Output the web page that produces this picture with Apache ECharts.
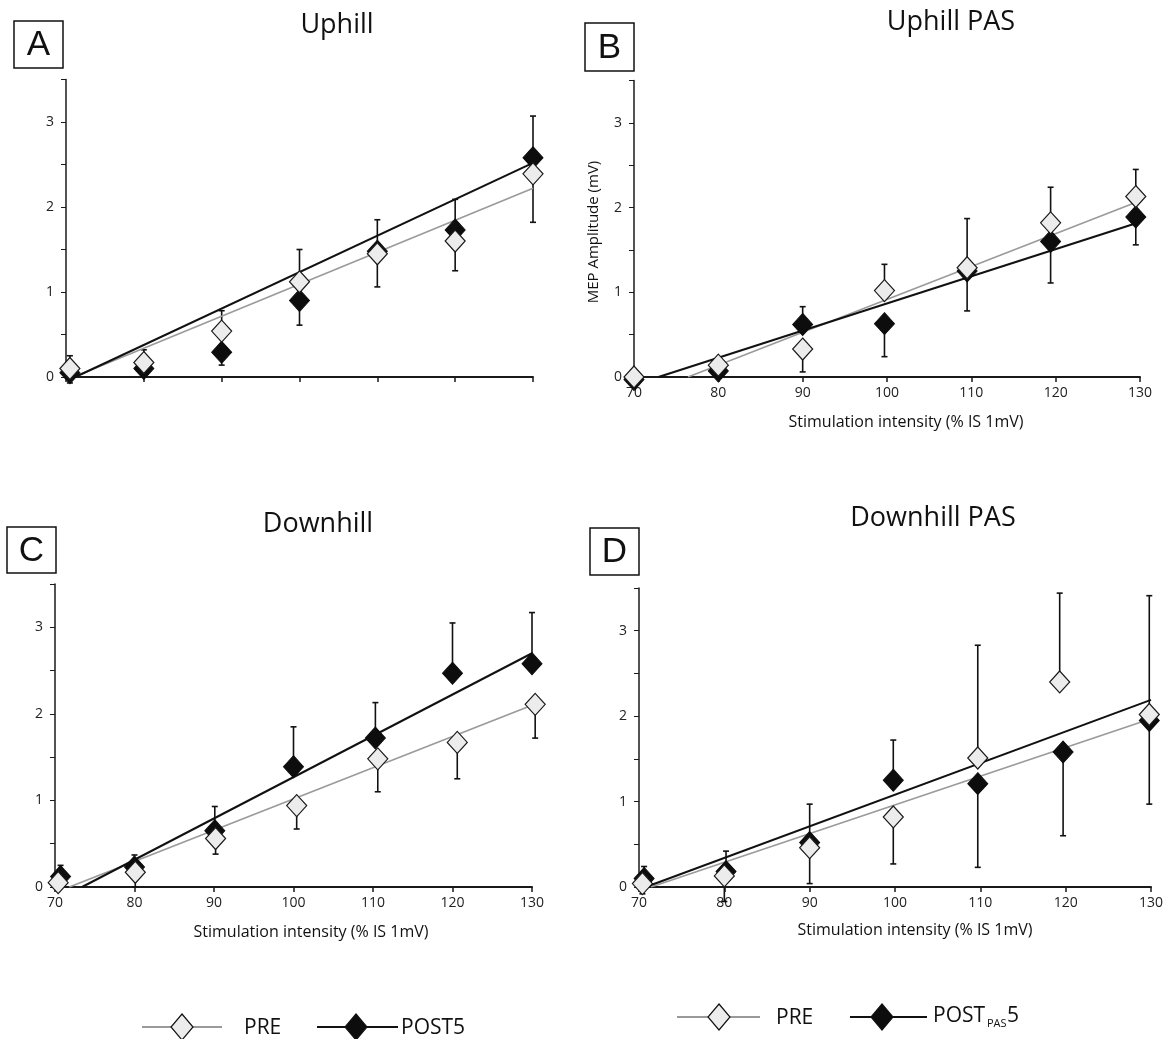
<!DOCTYPE html>
<html>
<head>
<meta charset="utf-8">
<script src="https://cdn.jsdelivr.net/npm/echarts@6/dist/echarts.min.js"></script>
<style>
html,body{margin:0;padding:0;background:#fff;}
#chart{width:1166px;height:1039px;}
</style>
</head>
<body>
<div id="chart"></div>
<script>
// ---------- DATA ----------
const xTicks = [70, 80, 90, 100, 110, 120, 130];
const panelTitles = ['Uphill', 'Uphill PAS', 'Downhill', 'Downhill PAS'];
const panelLetters = ['A', 'B', 'C', 'D'];
const xAxisTitle = 'Stimulation intensity (% IS 1mV)';
const yAxisTitle = 'MEP Amplitude (mV)';

// Panel A - Uphill
const A_preX = [70.5, 80, 90, 100, 110, 120, 130];
const A_preY = [0.10, 0.17, 0.54, 1.12, 1.45, 1.60, 2.39];
const A_preErr = [0.15, 0.15, 0.24, 0.38, -0.39, -0.35, -0.57];
const A_postX = [70.5, 80, 90, 100, 110, 120, 130];
const A_postY = [0.05, 0.10, 0.29, 0.90, 1.48, 1.73, 2.58];
const A_postErr = [-0.12, -0.08, -0.15, -0.29, 0.37, 0.36, 0.49];
const A_preTrend = [[71.0, 0], [130, 2.22]];
const A_postTrend = [[71.2, 0], [130, 2.52]];

// Panel B - Uphill PAS
const B_preX = [70, 80, 90, 99.7, 109.5, 119.4, 129.5];
const B_preY = [0.0, 0.14, 0.33, 1.02, 1.29, 1.82, 2.13];
const B_preErr = [0, 0, -0.27, 0.31, 0.58, 0.42, 0.32];
const B_postX = [70, 80, 90, 99.7, 109.5, 119.4, 129.5];
const B_postY = [-0.03, 0.07, 0.62, 0.63, 1.25, 1.60, 1.89];
const B_postErr = [0, -0.07, 0.21, -0.39, -0.47, -0.49, -0.33];
const B_preTrend = [[76.4, 0], [130, 2.08]];
const B_postTrend = [[72.9, 0], [130, 1.83]];

// Panel C - Downhill
const C_preX = [70.4, 80.1, 90.2, 100.4, 110.6, 120.6, 130.4];
const C_preY = [0.05, 0.17, 0.56, 0.94, 1.48, 1.67, 2.11];
const C_preErr = [0, -0.17, -0.18, -0.27, -0.38, -0.42, -0.39];
const C_postX = [70.7, 80, 90.1, 100, 110.3, 120, 130];
const C_postY = [0.12, 0.23, 0.65, 1.39, 1.72, 2.47, 2.58];
const C_postErr = [0.13, 0.14, 0.28, 0.46, 0.41, 0.58, 0.59];
const C_preTrend = [[71.8, 0], [130, 2.10]];
const C_postTrend = [[73.4, 0], [130, 2.70]];

// Panel D - Downhill PAS
const D_preX = [70.4, 80, 90, 99.8, 109.7, 119.3, 129.8];
const D_preY = [0.04, 0.13, 0.46, 0.82, 1.51, 2.40, 2.02];
const D_preErr = [-0.12, -0.30, -0.42, -0.55, 1.32, 1.04, 1.39];
const D_postX = [70.6, 80.2, 90, 99.8, 109.7, 119.7, 129.8];
const D_postY = [0.10, 0.18, 0.52, 1.25, 1.21, 1.58, 1.95];
const D_postErr = [0.14, 0.24, 0.45, 0.47, -0.98, -0.98, -0.98];
const D_preTrend = [[71.4, 0], [130, 1.97]];
const D_postTrend = [[70.8, 0], [130, 2.19]];

// ---------- CHART ----------
const FONT = '"Open Sans", "DejaVu Sans", sans-serif';
const panels = [
  {preX: A_preX, preY: A_preY, preErr: A_preErr, postX: A_postX, postY: A_postY, postErr: A_postErr, preTrend: A_preTrend, postTrend: A_postTrend},
  {preX: B_preX, preY: B_preY, preErr: B_preErr, postX: B_postX, postY: B_postY, postErr: B_postErr, preTrend: B_preTrend, postTrend: B_postTrend},
  {preX: C_preX, preY: C_preY, preErr: C_preErr, postX: C_postX, postY: C_postY, postErr: C_postErr, preTrend: C_preTrend, postTrend: C_postTrend},
  {preX: D_preX, preY: D_preY, preErr: D_preErr, postX: D_postX, postY: D_postY, postErr: D_postErr, preTrend: D_preTrend, postTrend: D_postTrend}
];

const grids = [
  {left: 66, top: 79.5, width: 467, height: 297.5},
  {left: 634, top: 80.5, width: 506, height: 296.5},
  {left: 55, top: 584, width: 477, height: 303},
  {left: 639, top: 588, width: 514, height: 299}
];

const xAxes = grids.map((g, i) => ({
  gridIndex: i, type: 'value', min: xTicks[0], max: xTicks[xTicks.length - 1], interval: 10,
  axisLine: {show: true, onZero: false, lineStyle: {color: '#1a1a1a', width: 2}},
  axisTick: {show: true, inside: false, length: 5, lineStyle: {color: '#1a1a1a', width: 1.5}},
  axisLabel: {show: i !== 0, fontFamily: FONT, fontSize: 14, color: '#222', margin: 9},
  splitLine: {show: false}
}));

const yAxes = grids.map((g, i) => ({
  gridIndex: i, type: 'value', min: 0, max: 3.5, interval: 0.5,
  axisLine: {show: true, onZero: false, lineStyle: {color: '#1a1a1a', width: 1.5}},
  axisTick: {show: true, inside: false, length: 5, lineStyle: {color: '#1a1a1a', width: 1}},
  axisLabel: {fontFamily: FONT, fontSize: 14, color: '#222', margin: 12,
    formatter: v => (Math.abs(v - Math.round(v)) < 1e-9 && v <= 3) ? String(Math.round(v)) : ''},
  splitLine: {show: false}
}));

function errRender(params, api) {
  const x = api.value(0), y = api.value(1), e = api.value(2);
  if (!e) return null;
  const p0 = api.coord([x, y]);
  const p1 = api.coord([x, y + e]);
  return {
    type: 'group',
    children: [
      {type: 'line', shape: {x1: p0[0], y1: p0[1], x2: p1[0], y2: p1[1]}, style: {stroke: '#111', lineWidth: 1.6}},
      {type: 'line', shape: {x1: p1[0] - 3, y1: p1[1], x2: p1[0] + 3, y2: p1[1]}, style: {stroke: '#111', lineWidth: 1.6}}
    ]
  };
}

const series = [];
panels.forEach((p, i) => {
  series.push({
    type: 'custom', xAxisIndex: i, yAxisIndex: i, renderItem: errRender, z: 1, clip: false,
    data: p.preX.map((x, k) => [x, p.preY[k], p.preErr[k]]), silent: true
  });
  series.push({
    type: 'custom', xAxisIndex: i, yAxisIndex: i, renderItem: errRender, z: 1, clip: false,
    data: p.postX.map((x, k) => [x, p.postY[k], p.postErr[k]]), silent: true
  });
  series.push({
    type: 'line', xAxisIndex: i, yAxisIndex: i, data: p.preTrend, symbol: 'none', z: 2,
    lineStyle: {color: '#9a9a9a', width: 1.6}, silent: true
  });
  series.push({
    type: 'line', xAxisIndex: i, yAxisIndex: i, data: p.postTrend, symbol: 'none', z: 2,
    lineStyle: {color: '#111', width: 2}, silent: true
  });
  series.push({
    type: 'scatter', xAxisIndex: i, yAxisIndex: i, clip: false, z: 3,
    data: p.postX.map((x, k) => [x, p.postY[k]]),
    symbol: 'diamond', symbolSize: [20, 22],
    itemStyle: {color: '#0d0d0d', borderColor: '#0d0d0d', borderWidth: 1, opacity: 1}
  });
  series.push({
    type: 'scatter', xAxisIndex: i, yAxisIndex: i, clip: false, z: 4,
    data: p.preX.map((x, k) => [x, p.preY[k]]),
    symbol: 'diamond', symbolSize: [20, 22],
    itemStyle: {color: '#ececec', borderColor: '#1a1a1a', borderWidth: 1.2, opacity: 1}
  });
});

function diamond(cx, cy, w, h, fill) {
  return {type: 'polygon', shape: {points: [[cx, cy - h / 2], [cx + w / 2, cy], [cx, cy + h / 2], [cx - w / 2, cy]]},
    style: {fill: fill, stroke: '#111', lineWidth: 1.2}};
}
function txt(x, y, text, size, align, extra) {
  return Object.assign({type: 'text', x: x, y: y,
    style: {text: text, fontFamily: FONT, fontSize: size, fill: '#111', align: align || 'center', verticalAlign: 'middle'}}, extra || {});
}
function box(x, y, w, h, letter) {
  return [
    {type: 'rect', shape: {x: x, y: y, width: w, height: h}, style: {fill: '#fff', stroke: '#111', lineWidth: 1.5}},
    {type: 'text', x: x + w / 2, y: y + h / 2 + 1, style: {text: letter, fontFamily: '"Liberation Sans", Arial, sans-serif', fontSize: 35, fill: '#111', align: 'center', verticalAlign: 'middle'}}
  ];
}

const graphics = [].concat(
  box(14, 21, 49, 47, panelLetters[0]),
  box(585, 23, 49, 48, panelLetters[1]),
  box(7, 527, 49, 46, panelLetters[2]),
  box(590, 528, 49, 47, panelLetters[3]),
  [
    txt(337, 25, panelTitles[0], 27),
    txt(951, 22, panelTitles[1], 27),
    txt(318, 524, panelTitles[2], 27),
    txt(933, 518, panelTitles[3], 27),
    txt(906, 422, xAxisTitle, 16),
    txt(311, 932, xAxisTitle, 16),
    txt(915, 930, xAxisTitle, 16),
    {type: 'text', x: 594, y: 232, rotation: Math.PI / 2,
      style: {text: yAxisTitle, fontFamily: FONT, fontSize: 15, fill: '#111', align: 'center', verticalAlign: 'middle'}},
    // left legend
    {type: 'line', shape: {x1: 142, y1: 1027, x2: 222, y2: 1027}, style: {stroke: '#9a9a9a', lineWidth: 2}},
    diamond(182, 1027, 22, 26, '#ececec'),
    txt(244, 1028, 'PRE', 21, 'left'),
    {type: 'line', shape: {x1: 317, y1: 1027, x2: 398, y2: 1027}, style: {stroke: '#111', lineWidth: 2}},
    diamond(356, 1027, 22, 26, '#0d0d0d'),
    txt(401, 1028, 'POST5', 21, 'left'),
    // right legend
    {type: 'line', shape: {x1: 677, y1: 1017, x2: 760, y2: 1017}, style: {stroke: '#9a9a9a', lineWidth: 2}},
    diamond(719, 1017, 22, 26, '#ececec'),
    txt(776, 1018, 'PRE', 21, 'left'),
    {type: 'line', shape: {x1: 850, y1: 1017, x2: 927, y2: 1017}, style: {stroke: '#111', lineWidth: 2}},
    diamond(882, 1017, 22, 26, '#0d0d0d'),
    txt(933, 1016, 'POST', 21, 'left'),
    txt(987, 1024, 'PAS', 11, 'left'),
    txt(1007, 1016, '5', 21, 'left')
  ]
);

const chart = echarts.init(document.getElementById('chart'), null, {renderer: 'canvas'});
chart.setOption({
  animation: false,
  backgroundColor: '#ffffff',
  grid: grids,
  xAxis: xAxes,
  yAxis: yAxes,
  series: series,
  graphic: graphics
});
</script>
</body>
</html>
